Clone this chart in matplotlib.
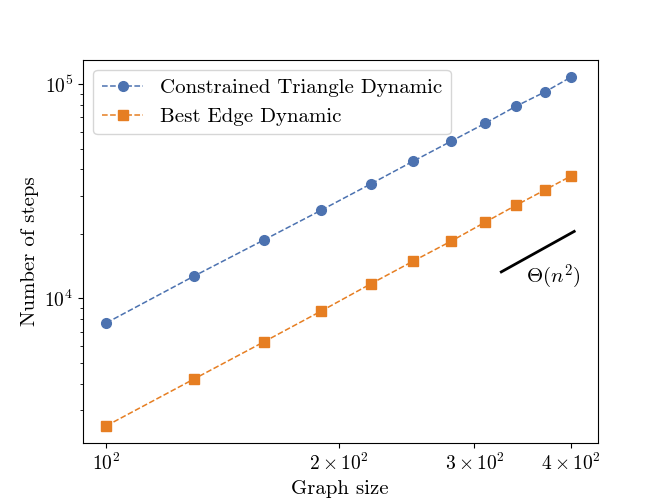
import matplotlib
matplotlib.use("Agg")
import matplotlib.pyplot as plt

plt.rcParams['font.family'] = 'serif'
plt.rcParams['font.serif'] = ['cmr10']
plt.rcParams['mathtext.fontset'] = 'cm'
plt.rcParams['axes.formatter.use_mathtext'] = True

sizes = [100, 130, 160, 190, 220, 250, 280, 310, 340, 370, 400]
triangle_steps = [7690, 12730, 18740, 25850, 34190, 43750, 54230, 65770, 79050, 91920, 107800]
edge_steps = [2544, 4214, 6270, 8743, 11680, 14950, 18530, 22730, 27280, 32050, 37240]
ref_x = [325, 404]
ref_y = [13300, 20550]

fig = plt.figure(figsize=(6.64, 4.98), dpi=100)
ax = fig.add_axes([0.125, 0.11, 0.775, 0.77])
ax.plot(sizes, triangle_steps, '--o', color='#4C72B0', markersize=7, linewidth=1.1,
        label='Constrained Triangle Dynamic')
ax.plot(sizes, edge_steps, '--s', color='#E67E22', markersize=7, linewidth=1.1,
        label='Best Edge Dynamic')
ax.set_xscale('log')
ax.set_yscale('log')
ax.plot(ref_x, ref_y, color='black', linewidth=2)
ax.text(350, 11800, r'$\Theta(n^2)$', fontsize=15, ha='left', va='baseline')
ax.set_xticks([100, 200, 300, 400])
ax.set_xticklabels([r'$10^2$', r'$2\times10^2$', r'$3\times10^2$', r'$4\times10^2$'])
ax.tick_params(labelsize=14)
ax.set_xlabel('Graph size', fontsize=15)
ax.set_ylabel('Number of steps', fontsize=15)
ax.legend(loc='upper left', fontsize=15)
fig.savefig('out.png', dpi=100)
